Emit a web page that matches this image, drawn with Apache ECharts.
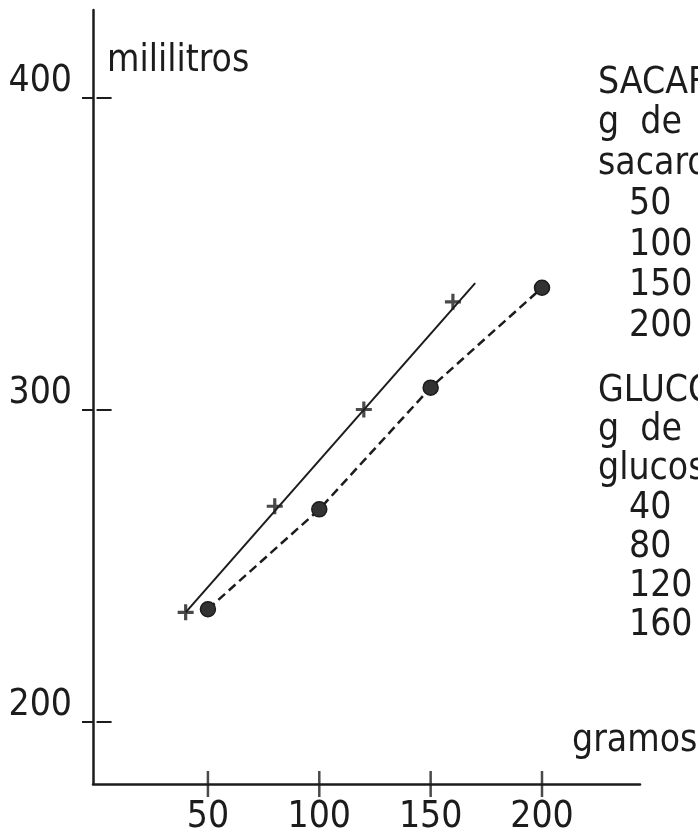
<!DOCTYPE html>
<html>
<head>
<meta charset="utf-8">
<script src="https://cdn.jsdelivr.net/npm/echarts@6/dist/echarts.min.js"></script>
<style>
  html, body { margin: 0; padding: 0; background: #fff; }
  #chart { width: 698px; height: 837px; }
</style>
</head>
<body>
<div id="chart"></div>
<script>
// values
var xTicks = [50, 100, 150, 200];
var yTicks = [200, 300, 400];
var yMin = 180;

var sacarosaX = [50, 100, 150, 200];
var sacarosaY = [236, 268, 307, 339];

var glucosaX = [40, 80, 120, 160];
var glucosaY = [235, 269, 300, 334.5];

// the drawn straight line for glucosa runs a bit past the last point
var glucosaLineX = [40, 170];
var glucosaLineY = [235, 340.5];

var sacarosaLabel = ['SACAROSA', 'g  de', 'sacarosa'];
var sacarosaGrams = ['50', '100', '150', '200'];
var glucosaLabel = ['GLUCOSA', 'g  de', 'glucosa'];
var glucosaGrams = ['40', '80', '120', '160'];

var FONT = '"Liberation Sans Narrow", "DejaVu Sans Condensed", Roboto, sans-serif';
var INK = '#1c1c1c';
var SIZE = 37;

function pairs(xs, ys) {
  return xs.map(function (x, i) { return [x, ys[i]]; });
}

function line(text, x, y) {
  return { type: 'text', x: x, y: y,
    style: { text: text, font: SIZE + 'px ' + FONT, fill: INK, verticalAlign: 'middle' } };
}

// right hand text block, one text element per line
function textBlock(lines, numbers, top, step) {
  var out = [];
  lines.forEach(function (t, i) { out.push(line(t, 598, top + i * step + 3)); });
  numbers.forEach(function (t, i) {
    out.push(line(t, 629, top + (lines.length + i) * step + 3));
  });
  return out;
}

var chart = echarts.init(document.getElementById('chart'), null, { renderer: 'canvas' });

var plus = 'path://M6,0H9V6H15V9H9V15H6V9H0V6H6Z';

var option = {
  backgroundColor: '#fff',
  animation: false,
  grid: { left: 93, right: 58, top: 10, bottom: 52, containLabel: false },
  xAxis: {
    type: 'value', min: -1.6, max: 244, position: 'bottom',
    axisLine: { show: true, onZero: false, lineStyle: { color: INK, width: 2.5 } },
    axisTick: { show: false },
    axisLabel: { customValues: xTicks, margin: 13, color: INK, fontSize: SIZE,
      fontFamily: FONT, lineHeight: 40 },
    splitLine: { show: false }
  },
  // y ticks cross the axis line: the second axis (no line, no labels) draws the inner half
  yAxis: [{
    type: 'value', min: yMin, max: 428, position: 'left',
    name: 'mililitros', nameLocation: 'end', nameGap: -51,
    nameTextStyle: { color: INK, fontSize: SIZE, fontFamily: FONT, align: 'left',
      verticalAlign: 'middle', padding: [0, 0, 0, 14] },
    axisLine: { show: true, onZero: false, lineStyle: { color: INK, width: 2.5 } },
    axisTick: { show: true, inside: false, length: 11, customValues: yTicks,
      lineStyle: { color: INK, width: 2 } },
    axisLabel: { customValues: yTicks, margin: 21, color: INK, fontSize: SIZE,
      fontFamily: FONT, verticalAlign: 'bottom', lineHeight: 32 },
    splitLine: { show: false }
  }, {
    type: 'value', min: yMin, max: 428, position: 'left',
    axisLine: { show: false },
    axisTick: { show: true, inside: true, length: 15, customValues: yTicks,
      lineStyle: { color: INK, width: 2 } },
    axisLabel: { show: false },
    splitLine: { show: false }
  }],
  series: [{
    // x ticks that cross the bottom axis line
    name: 'marcas x', type: 'scatter', silent: true, clip: false, z: 5,
    data: xTicks.map(function (v) { return [v, yMin]; }),
    symbol: 'rect', symbolSize: [2.5, 26],
    itemStyle: { color: INK }
  }, {
    name: 'glucosa recta', type: 'line', data: pairs(glucosaLineX, glucosaLineY),
    showSymbol: false, silent: true,
    lineStyle: { color: INK, width: 2, type: 'solid' }
  }, {
    name: 'sacarosa', type: 'line', data: pairs(sacarosaX, sacarosaY),
    symbol: 'circle', symbolSize: 15,
    itemStyle: { color: '#333', borderColor: INK, borderWidth: 1.5 },
    lineStyle: { color: INK, width: 2.5, type: [9, 5] }
  }, {
    name: 'glucosa', type: 'scatter', data: pairs(glucosaX, glucosaY),
    symbol: plus, symbolSize: 16,
    itemStyle: { color: INK }
  }],
  graphic: [].concat(
    textBlock(sacarosaLabel, sacarosaGrams, 80, 40.5),
    textBlock(glucosaLabel, glucosaGrams, 388, 39),
    [line('gramos', 572, 741)]
  )
};

chart.setOption(option);
</script>
</body>
</html>
